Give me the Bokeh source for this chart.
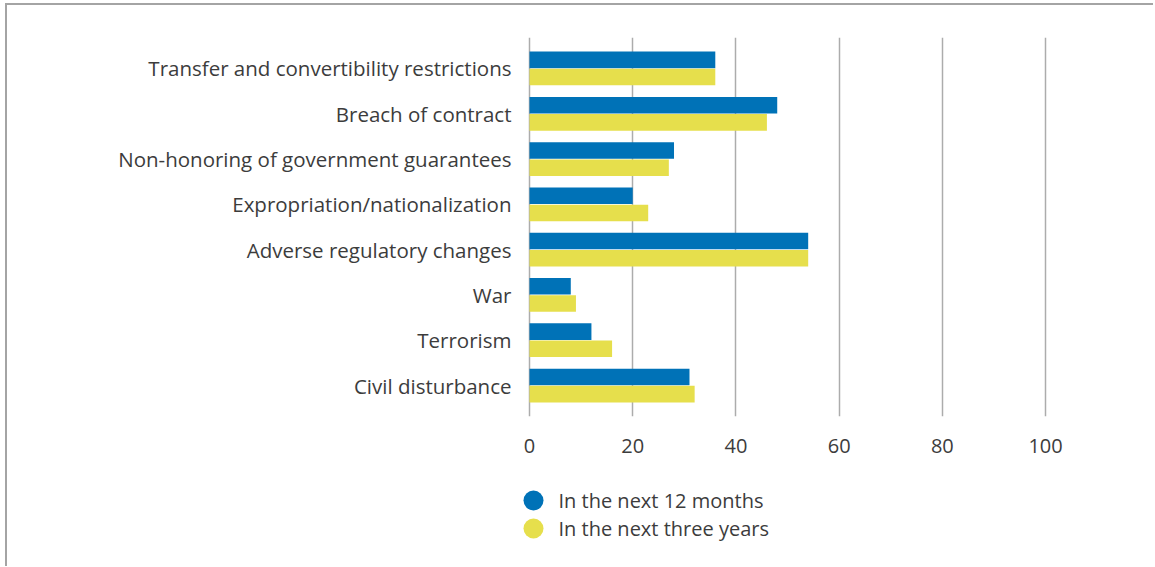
from bokeh.plotting import figure
from bokeh.layouts import column
from bokeh.models import FactorRange, Range1d, FixedTicker, ColumnDataSource
from bokeh.core.properties import value
from bokeh.transform import dodge
from bokeh.embed import file_html
from bokeh.resources import INLINE

categories = [
    "Transfer and convertibility restrictions",
    "Breach of contract",
    "Non-honoring of government guarantees",
    "Expropriation/nationalization",
    "Adverse regulatory changes",
    "War",
    "Terrorism",
    "Civil disturbance",
]
next_12_months = [36, 48, 28, 20, 54, 8, 12, 31]
next_three_years = [36, 46, 27, 23, 54, 9, 16, 32]
series_labels = ["In the next 12 months", "In the next three years"]
x_ticks = [0, 20, 40, 60, 80, 100]

BLUE = "#0072b7"
YELLOW = "#e6df4c"
TEXT = "#3c3c3c"
GRID = "#acacac"
FONT = "Open Sans"

source = ColumnDataSource(dict(cat=categories, a=next_12_months, b=next_three_years))

W = 1146
BL, BR = 514, 15          # frame borders (shared by both panels)
p = figure(
    width=W, height=465,
    y_range=FactorRange(factors=list(reversed(categories)), range_padding=0.046),
    x_range=Range1d(-1.55, 118),
    output_backend="svg", toolbar_location=None,
    min_border_left=BL, min_border_right=BR, min_border_top=32, min_border_bottom=54,
    outline_line_color=None,
)

p.hbar(y=dodge("cat", 0.19, range=p.y_range), left=0, right="a", height=0.365,
       source=source, fill_color=BLUE, line_color=None)
p.hbar(y=dodge("cat", -0.19, range=p.y_range), left=0, right="b", height=0.365,
       source=source, fill_color=YELLOW, line_color=None)

p.xaxis.ticker = FixedTicker(ticks=x_ticks)
p.xaxis.axis_line_color = None
p.xaxis.major_tick_line_color = None
p.xaxis.minor_tick_line_color = None
p.xaxis.major_label_standoff = 16
p.xaxis.major_label_text_font = FONT
p.xaxis.major_label_text_font_size = "20px"
p.xaxis.major_label_text_color = TEXT

p.yaxis.axis_line_color = None
p.yaxis.major_tick_line_color = None
p.yaxis.minor_tick_line_color = None
p.yaxis.major_label_standoff = 4
p.yaxis.major_label_text_font = FONT
p.yaxis.major_label_text_font_size = "20.5px"
p.yaxis.major_label_text_color = TEXT

p.xgrid.grid_line_color = GRID
p.xgrid.grid_line_width = 1.5
p.ygrid.grid_line_color = None

# legend panel (x in canvas pixels, rows of 28 px)
LH = 96
leg = figure(
    width=W, height=LH, x_range=Range1d(BL, W - BR),
    y_range=Range1d(start=(LH - 30) / 28, end=-30 / 28),
    x_axis_type=None, y_axis_type=None,
    output_backend="svg", toolbar_location=None,
    min_border_left=BL, min_border_right=BR, min_border_top=0, min_border_bottom=0,
    outline_line_color=None,
)
leg.grid.visible = False
leg_src = ColumnDataSource(dict(label=series_labels, color=[BLUE, YELLOW], row=[0, 1]))
leg.scatter(x=526, y="row", source=leg_src, marker="circle", size=20,
            fill_color="color", line_color=None)
leg.text(x=551, y="row", text="label", source=leg_src,
         text_font=value(FONT), text_font_size="20px", text_color=TEXT,
         text_baseline="middle", text_align="left")

layout = column(
    p, leg, spacing=0,
    styles={"border-top": "2px solid #a4a4a4", "border-left": "2px solid #a4a4a4",
            "margin-top": "3px", "margin-left": "5px"},
)

open("out.html", "w").write(file_html(layout, INLINE))
